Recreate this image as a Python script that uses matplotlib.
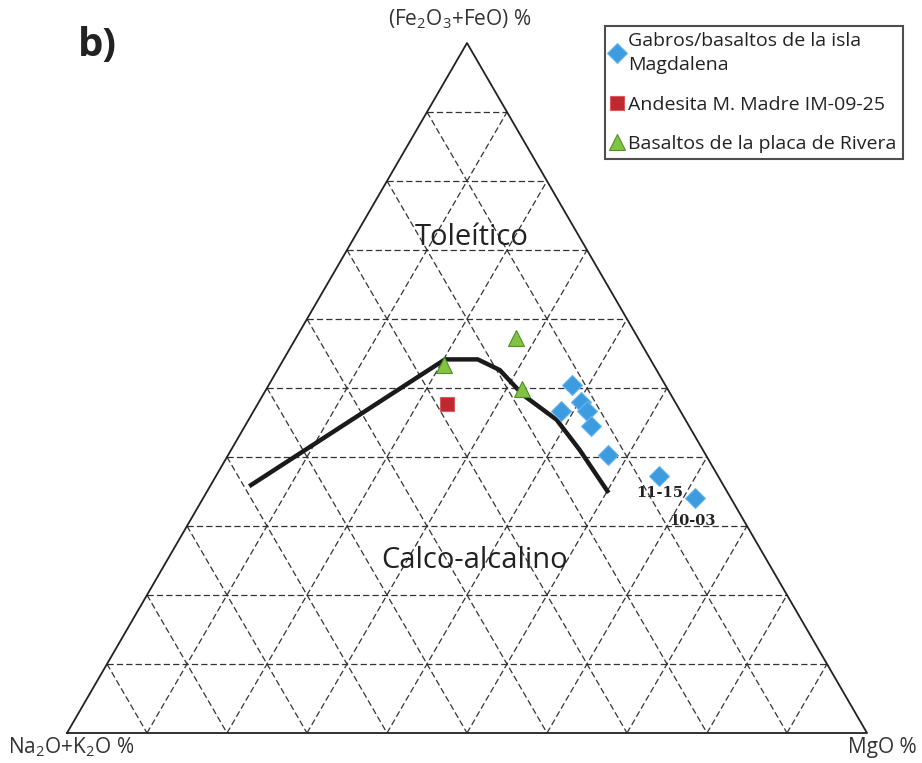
import numpy as np
import matplotlib
matplotlib.use("Agg")
import matplotlib.pyplot as plt

plt.rcParams['font.family'] = ['Open Sans', 'DejaVu Sans']
plt.rcParams['mathtext.fontset'] = 'custom'
plt.rcParams['mathtext.rm'] = 'Open Sans'
plt.rcParams['mathtext.it'] = 'Open Sans'

# ternary data: (A = Na2O+K2O, F = FeO total, M = MgO), percent
gabro_A = [11.7, 11.7, 15.0, 11.7, 12.3, 12.2, 7.3, 4.4]
gabro_F = [50.4, 48.0, 46.6, 46.6, 44.5, 40.3, 37.3, 34.1]
gabro_M = [37.9, 40.3, 38.4, 41.7, 43.2, 47.5, 55.4, 61.5]

andes_A = [28.7]
andes_F = [47.6]
andes_M = [23.6]

rivera_A = [15.2, 26.2, 18.2]
rivera_F = [57.3, 53.3, 49.9]
rivera_M = [27.5, 20.5, 31.9]

# Irvine & Baragar boundary
curve_A = [59.4, 25.7, 21.6, 19.6, 18.5, 16.1, 15.4, 14.9]
curve_F = [35.8, 54.2, 54.2, 52.6, 49.0, 45.4, 41.0, 34.8]
curve_M = [4.9, 20.2, 24.3, 27.8, 32.5, 38.5, 43.6, 50.3]

sample_labels = ['11-15', '10-03']


def tern(A, F, M):
    A, F, M = np.asarray(A, float), np.asarray(F, float), np.asarray(M, float)
    s = A + F + M
    f, m = F / s, M / s
    return m + f / 2, f * np.sqrt(3) / 2


fig = plt.figure(figsize=(9.22, 7.63), dpi=100)
ax = fig.add_axes([67 / 922, 30 / 763, 800 / 922, 690 / 763])
ax.set_xlim(0, 1)
ax.set_ylim(0, np.sqrt(3) / 2)
ax.axis('off')

# grid every 10 %
for k in range(1, 10):
    v = k * 10
    for a, f, m in [([100 - v, 0], [v, v], [0, 100 - v]),
                    ([100 - v, 0], [0, 100 - v], [v, v]),
                    ([v, v], [100 - v, 0], [0, 100 - v])]:
        x, y = tern(a, f, m)
        ax.plot(x, y, color='#333333', lw=0.9, dashes=(5, 2.5), zorder=1)

# outline
x, y = tern([100, 0, 0, 100], [0, 0, 100, 0], [0, 100, 0, 0])
ax.plot(x, y, color='#222222', lw=1.3, zorder=2, clip_on=False)

# boundary
x, y = tern(curve_A, curve_F, curve_M)
ax.plot(x, y, color='#1a1a1a', lw=3.2, solid_capstyle='butt', zorder=3)

x, y = tern(gabro_A, gabro_F, gabro_M)
ax.plot(x, y, 'D', ms=10, mfc='#3d9be0', mec='#6ab6ee', mew=0.8, ls='none',
        zorder=4, label='Gabros/basaltos de la isla\nMagdalena')
ax.text(x[-2], y[-2] - 0.022, sample_labels[0], fontsize=10.5, fontweight='bold',
        family='DejaVu Serif', color='#222222', ha='center', va='center', zorder=5)
ax.text(x[-1] - 0.004, y[-1] - 0.029, sample_labels[1], fontsize=10.5, fontweight='bold',
        family='DejaVu Serif', color='#222222', ha='center', va='center', zorder=5)

x, y = tern(andes_A, andes_F, andes_M)
ax.plot(x, y, 's', ms=10, mfc='#c0282e', mec='#d65a5e', mew=0.8, ls='none',
        zorder=4, label='Andesita M. Madre IM-09-25')

x, y = tern(rivera_A, rivera_F, rivera_M)
ax.plot(x, y, '^', ms=12, mfc='#82c341', mec='#4f8f2a', mew=0.8, ls='none',
        zorder=4, label='Basaltos de la placa de Rivera')

# field names
ax.text(0.506, 0.622, 'Toleítico', fontsize=21, color='#222222', ha='center', va='center')
ax.text(0.51, 0.217, 'Calco-alcalino', fontsize=21, color='#222222', ha='center', va='center')

# apex labels
fig.text(460 / 922, 1 - 19 / 763, '(Fe$_2$O$_3$+FeO) %', fontsize=15, color='#333333',
         ha='center', va='center')
fig.text(8 / 922, 1 - 747 / 763, 'Na$_2$O+K$_2$O %', fontsize=15, color='#333333',
         ha='left', va='center')
fig.text(917 / 922, 1 - 747 / 763, 'MgO %', fontsize=15, color='#333333',
         ha='right', va='center')
fig.text(78 / 922, 1 - 45 / 763, 'b)', fontsize=29, fontweight='bold', color='#222222',
         ha='left', va='center')

leg = ax.legend(loc='upper left', bbox_to_anchor=(605 / 922, 1 - 26 / 763),
                bbox_transform=fig.transFigure, fontsize=14, frameon=True,
                fancybox=False, handlelength=0.6, handletextpad=0.3,
                borderpad=0.3, labelspacing=1.1, borderaxespad=0)
leg.get_frame().set_edgecolor('#222222')
leg.get_frame().set_linewidth(1.5)
for t in leg.get_texts():
    t.set_color('#222222')
    t.set_linespacing(1.45)

fig.savefig('out.png', dpi=100)
